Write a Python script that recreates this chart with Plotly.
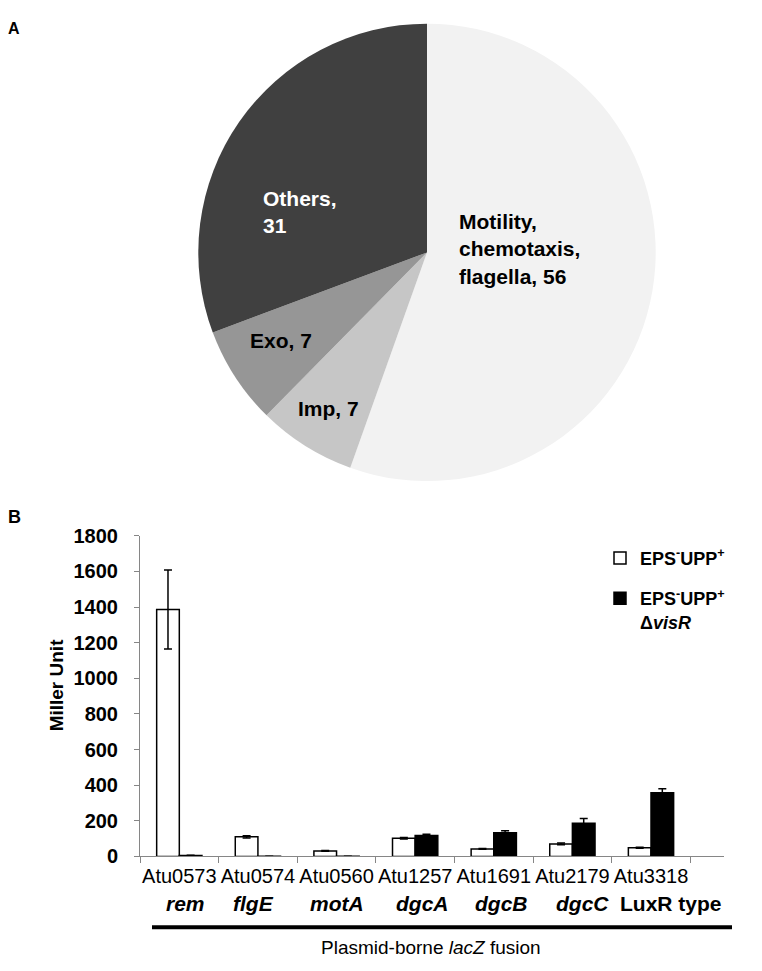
import plotly.graph_objects as go

# ---------------- data ----------------
pie_labels = ["Motility, chemotaxis, flagella", "Imp", "Exo", "Others"]
pie_values = [56, 7, 7, 31]

loci = ["Atu0573", "Atu0574", "Atu0560", "Atu1257", "Atu1691", "Atu2179", "Atu3318"]
genes = ["rem", "flgE", "motA", "dgcA", "dgcB", "dgcC", "LuxR type"]
wt_values = [1386, 110, 31, 102, 42, 70, 49]
wt_errors = [222, 6, 2, 4, 2, 5, 3]
visr_values = [5, 1, 1, 117, 133, 186, 357]
visr_errors = [2, 0.5, 0.5, 7, 11, 27, 23]
y_ticks = [0, 200, 400, 600, 800, 1000, 1200, 1400, 1600, 1800]

# ---------------- style ----------------
W, H = 762, 971
FONT = "Liberation Sans, Arial, Helvetica, sans-serif"
pie_colors = ["#f2f2f2", "#c6c6c6", "#969696", "#404040"]
axis_grey = "#868686"


def px(x):
    return x / W


def py(y):
    return 1 - y / H


fig = go.Figure()

# ---------------- panel A: pie ----------------
fig.add_trace(go.Pie(
    labels=pie_labels, values=pie_values, sort=False,
    direction="clockwise", rotation=0,
    marker=dict(colors=pie_colors, line=dict(width=0)),
    textinfo="none", hoverinfo="label+value", showlegend=False,
    domain=dict(x=[px(193), px(661)], y=[py(481), py(13)]),
))

pie_text = [
    ("<b>Motility,<br>chemotaxis,<br>flagella, %d</b>" % pie_values[0], 457, 244, "black"),
    ("<b>Imp, %d</b>" % pie_values[1], 296, 407, "black"),
    ("<b>Exo, %d</b>" % pie_values[2], 248, 337, "black"),
    ("<b>Others,<br>%d</b>" % pie_values[3], 261, 206, "white"),
]
for txt, x, y, c in pie_text:
    fig.add_annotation(text=txt, x=px(x), y=py(y), xref="paper", yref="paper",
                       xanchor="left", yanchor="middle", align="left",
                       showarrow=False, font=dict(family=FONT, size=21, color=c))

# ---------------- panel B: bars ----------------
fig.add_trace(go.Bar(
    x=loci, y=wt_values, name="<b>EPS<sup>-</sup>UPP<sup>+</sup></b>",
    marker=dict(color="white", line=dict(color="black", width=1.5)),
    error_y=dict(type="data", array=wt_errors, color="black", thickness=1.5, width=4),
    legendgroup="a",
))
fig.add_trace(go.Bar(
    x=loci, y=visr_values, name="<b>EPS<sup>-</sup>UPP<sup>+</sup><br>Δ<i>visR</i></b>",
    marker=dict(color="black", line=dict(color="black", width=1.5)),
    error_y=dict(type="data", array=visr_errors, color="black", thickness=1.5, width=4),
    legendgroup="b",
))

fig.update_layout(
    width=W, height=H,
    margin=dict(l=0, r=0, t=0, b=0),
    paper_bgcolor="white", plot_bgcolor="white",
    font=dict(family=FONT, color="black"),
    barmode="group", bargap=0.424, bargroupgap=0,
    xaxis=dict(domain=[px(140), px(724)], showline=True, linecolor=axis_grey, linewidth=1,
               ticks="outside", tickson="boundaries", ticklen=6, tickcolor=axis_grey,
               tickangle=0,
               tickfont=dict(family=FONT, size=20, color="black"), ticklabelstandoff=2,
               showgrid=False, zeroline=False, anchor="y", fixedrange=True),
    yaxis=dict(domain=[py(865), py(537)], range=[0, 1800], tickvals=y_ticks,
               showline=True, linecolor=axis_grey, linewidth=1,
               ticks="outside", ticklen=5, tickcolor=axis_grey,
               tickfont=dict(family=FONT, size=20, color="black", weight="bold"),
               ticklabelstandoff=12, showgrid=False, zeroline=False, anchor="x"),
    legend=dict(x=px(600), y=py(541), xanchor="left", yanchor="top",
                bgcolor="rgba(0,0,0,0)", borderwidth=0, valign="top",
                traceorder="grouped", tracegroupgap=14,
                font=dict(family=FONT, size=18, color="black")),
)

# gene names below the locus tick labels
gene_shift = [6, -4, 0, 7, 8, 10, 20]
for locus, gene, sh in zip(loci, genes, gene_shift):
    txt = "<b>%s</b>" % gene if " " in gene else "<b><i>%s</i></b>" % gene
    fig.add_annotation(text=txt, x=locus, xref="x", y=py(913), yref="paper",
                       xshift=sh, xanchor="center", yanchor="middle", showarrow=False,
                       font=dict(family=FONT, size=21, color="black"))

# bracket line and caption
fig.add_shape(type="line", xref="paper", yref="paper",
              x0=px(152), x1=px(732), y0=py(937.5), y1=py(937.5),
              line=dict(color="black", width=4))
fig.add_annotation(text="Plasmid-borne <i>lacZ</i> fusion", x=px(431), y=py(958),
                   xref="paper", yref="paper", xanchor="center", yanchor="middle",
                   showarrow=False, font=dict(family=FONT, size=19, color="black"))

# y axis title
fig.add_annotation(text="<b>Miller Unit</b>", x=px(56), y=py(690), xref="paper", yref="paper",
                   xanchor="center", yanchor="middle",
                   textangle=-90, showarrow=False, font=dict(family=FONT, size=19, color="black"))

# panel letters
fig.add_annotation(text="<b>A</b>", x=px(14), y=py(18), xref="paper", yref="paper",
                   xanchor="center", yanchor="middle",
                   showarrow=False, font=dict(family=FONT, size=16, color="black"))
fig.add_annotation(text="<b>B</b>", x=px(14), y=py(518), xref="paper", yref="paper",
                   xanchor="center", yanchor="middle",
                   showarrow=False, font=dict(family=FONT, size=18, color="black"))

fig.write_html("out.html", config={"displayModeBar": False},
               post_script="document.body.style.margin='0';document.body.style.overflow='hidden';")
